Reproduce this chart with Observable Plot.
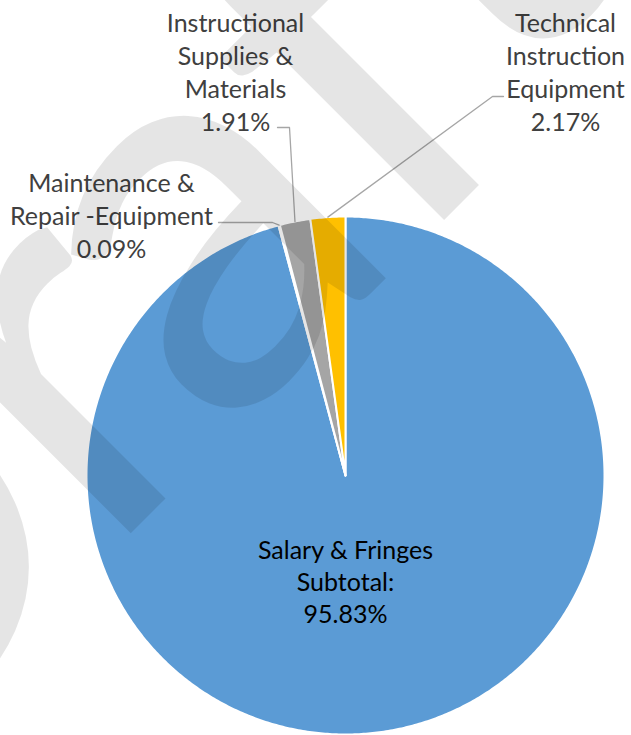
<!DOCTYPE html>
<html><head><meta charset="utf-8">
<script src="https://cdn.jsdelivr.net/npm/d3@7"></script>
<script src="https://cdn.jsdelivr.net/npm/@observablehq/plot@0.6"></script>
<style>
html,body{margin:0;padding:0;background:#fff;}
#wrap{position:relative;width:631px;height:735px;overflow:hidden;}
#wm{position:absolute;left:0;top:0;pointer-events:none;}
</style></head><body><div id="wrap"></div>
<script>
// ---- data ----
const categories = ["Salary & Fringes Subtotal", "Maintenance & Repair -Equipment", "Instructional Supplies & Materials", "Technical Instruction Equipment"];
const shares = [95.83, 0.09, 1.91, 2.17];
const labelLines = [["Salary & Fringes", "Subtotal:"], ["Maintenance &", "Repair -Equipment"], ["Instructional", "Supplies &", "Materials"], ["Technical", "Instruction", "Equipment"]];
const sliceColors = ["#5B9BD5", "#ED7D31", "#A5A5A5", "#FFC000"];
const watermarkText = "Draft";

// ---- layout ----
const W = 631, H = 735, CX = 345, CY = 475, R = 259;
const labelPos = [[345, 580], [111, 214], [235, 70], [565, 70]];
const leaderBends = [null, [[272, 222], [218, 222]], [[289, 127], [277, 127]], [[492, 96], [503, 96]]];

const total = d3.sum(shares);
let acc = 0;
const slices = categories.map((c, i) => {
  const a0 = acc / total * 2 * Math.PI; acc += shares[i];
  const a1 = acc / total * 2 * Math.PI;
  return {c, i, a0, a1};
});
const pt = a => [CX + R * Math.sin(a), CY - R * Math.cos(a)];
const pieRows = [];
slices.forEach(s => {
  const n = Math.max(2, Math.ceil((s.a1 - s.a0) / (Math.PI / 360)));
  pieRows.push({c: s.c, x: CX, y: CY});
  for (let k = 0; k <= n; k++) {
    const [x, y] = pt(s.a0 + (s.a1 - s.a0) * k / n);
    pieRows.push({c: s.c, x, y});
  }
  pieRows.push({c: s.c, x: CX, y: CY});
});
const leaderRows = [];
slices.forEach(s => {
  const b = leaderBends[s.i]; if (!b) return;
  const [x0, y0] = pt((s.a0 + s.a1) / 2);
  leaderRows.push({i: s.i, x: x0, y: y0});
  b.forEach(([x, y]) => leaderRows.push({i: s.i, x, y}));
});
const labels = slices.map(s => ({
  i: s.i,
  x: labelPos[s.i][0], y: labelPos[s.i][1],
  text: labelLines[s.i].join("\n") + "\n" + shares[s.i].toFixed(2) + "%"
}));

const chart = Plot.plot({
  width: W, height: H, margin: 0,
  x: {domain: [0, W], range: [0, W], axis: null},
  y: {domain: [0, H], range: [0, H], axis: null},
  color: {domain: categories, range: sliceColors},
  style: {background: "transparent", fontFamily: "Lato"},
  marks: [
    Plot.line(pieRows, {x: "x", y: "y", z: "c", fill: "c", stroke: "white", strokeWidth: 2, strokeLinejoin: "round"}),
    Plot.line(leaderRows, {x: "x", y: "y", z: "i", stroke: "#A6A6A6", strokeWidth: 1.3}),
    Plot.text(labels.filter(d => d.i !== 0), {x: "x", y: "y", text: "text", fill: "#404040", fontSize: 25, lineHeight: 1.32, fontFamily: "Lato"}),
    Plot.text(labels.filter(d => d.i === 0), {x: "x", y: "y", text: "text", fill: "#000000", fontSize: 25, lineHeight: 1.28, fontFamily: "Lato"})
  ]
});
const wrap = document.getElementById("wrap");
wrap.appendChild(chart);

// watermark overlay (decoration)
const ang = -45, u = [Math.cos(ang * Math.PI / 180), Math.sin(ang * Math.PI / 180)], v = [u[1], -u[0]];
const stem = [150, 514];
const wmPlace = [[-427, 0, 495], [-66, 0, 550], [96, 0, 550], [359, 0, 550], [540, 45, 550]]; // [along, up, size]
const wm = d3.create("svg").attr("id", "wm").attr("width", W).attr("height", H);
watermarkText.split("").forEach((ch, k) => {
  const [a, b, fs] = wmPlace[k];
  const x = stem[0] + a * u[0] + b * v[0], y = stem[1] + a * u[1] + b * v[1];
  wm.append("text").attr("x", x).attr("y", y).attr("transform", `rotate(${ang},${x},${y})`)
    .attr("font-size", fs).attr("font-family", "Lato").attr("fill", "rgba(0,0,0,0.1)").text(ch);
});
wrap.appendChild(wm.node());
</script></body></html>
